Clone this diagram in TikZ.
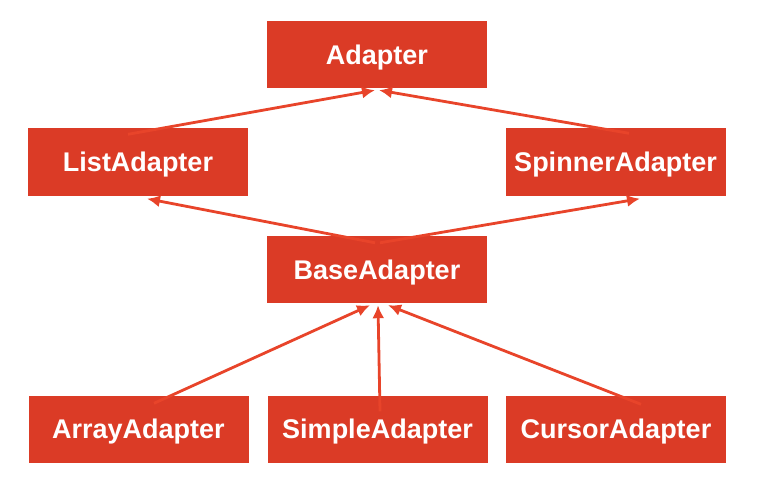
\documentclass[tikz,border=0pt]{standalone}
\usepackage{fontspec}
\setmainfont{Liberation Sans}
\usetikzlibrary{arrows.meta,calc}
\definecolor{boxred}{RGB}{219,59,38}
\definecolor{arrred}{RGB}{232,68,42}
\begin{document}
\begin{tikzpicture}[x=1pt,y=1pt,
  cls/.style={fill=boxred,draw=none,minimum width=220pt,minimum height=67pt,inner sep=0pt,
    text height=19.3pt,text depth=0pt,
    text=white,font=\bfseries\fontsize{27}{30}\selectfont},
  inh/.style={draw=arrred,line width=2.8pt,-{Latex[length=13pt,width=12pt]}}]
\useasboundingbox (0,0) rectangle (763,491);
\node[cls] (ad) at (377,436.5) {Adapter};
\node[cls] (la) at (138,329) {ListAdapter};
\node[cls] (sa) at (615.5,329) {SpinnerAdapter};
\node[cls] (ba) at (377,221.5) {BaseAdapter};
\node[cls] (aa) at (138.5,62) {ArrayAdapter};
\node[cls] (sia) at (377.5,62) {SimpleAdapter};
\node[cls] (ca) at (616,62) {CursorAdapter};
% connector end points
\coordinate (laS) at ($(la.north)+(-10,-6)$);
\coordinate (saS) at ($(sa.north)+(13.5,-5)$);
\coordinate (adL) at ($(ad.south)+(-2,-2)$);
\coordinate (adR) at ($(ad.south)+(2,-2)$);
\coordinate (baSL) at ($(ba.north)+(-2,-7)$);
\coordinate (baSR) at ($(ba.north)+(3,-7)$);
\coordinate (laE) at ($(la.south)+(9,-3)$);
\coordinate (saE) at ($(sa.south)+(24.5,-3)$);
\coordinate (aaS) at ($(aa.north)+(15.5,-8)$);
\coordinate (siaS) at ($(sia.north)+(2.5,-16)$);
\coordinate (caS) at ($(ca.north)+(25,-9)$);
\coordinate (baL) at ($(ba.south)+(-7,-2)$);
\coordinate (baM) at ($(ba.south)+(1,-2)$);
\coordinate (baR) at ($(ba.south)+(11,-2)$);
\draw[inh] (laS) -- (adL);
\draw[inh] (saS) -- (adR);
\draw[inh] (baSL) -- (laE);
\draw[inh] (baSR) -- (saE);
\draw[inh] (aaS) -- (baL);
\draw[inh] (siaS) -- (baM);
\draw[inh] (caS) -- (baR);
\end{tikzpicture}
\end{document}
